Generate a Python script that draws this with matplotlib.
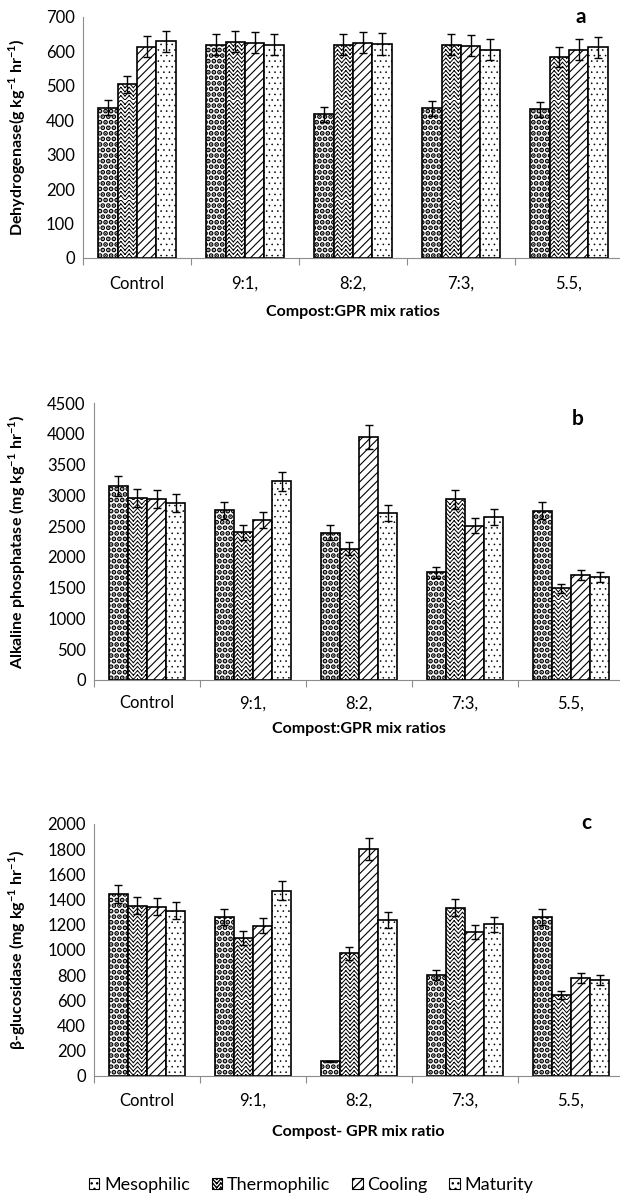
import warnings
import numpy as np
import matplotlib
matplotlib.use("Agg")
import matplotlib.pyplot as plt
import matplotlib.hatch as mhatch
from matplotlib.patches import Patch
from matplotlib.path import Path

warnings.filterwarnings('ignore')

plt.rcParams['font.family'] = ['Lato', 'DejaVu Sans']
plt.rcParams['mathtext.fontset'] = 'custom'
plt.rcParams['mathtext.rm'] = 'Lato'
plt.rcParams['mathtext.bf'] = 'Lato:bold'

ratios = ['Control', '9:1,', '8:2,', '7:3,', '5.5,']
stages = ['Mesophilic', 'Thermophilic', 'Cooling', 'Maturity']

# panel a - dehydrogenase
dh_meso = [437, 620, 417, 435, 432]
dh_thermo = [505, 628, 620, 620, 585]
dh_cool = [614, 625, 625, 617, 605]
dh_mat = [629, 620, 622, 605, 612]
dh_err = [[22, 31, 21, 22, 22], [25, 31, 31, 31, 29],
          [31, 31, 31, 31, 30], [31, 31, 31, 30, 31]]

# panel b - alkaline phosphatase
ap_meso = [3155, 2754, 2396, 1751, 2749]
ap_thermo = [2960, 2402, 2131, 2933, 1491]
ap_cool = [2939, 2602, 3947, 2505, 1708]
ap_mat = [2874, 3226, 2711, 2646, 1670]
ap_err = [[158, 138, 120, 88, 137], [148, 120, 107, 147, 75],
          [147, 130, 197, 125, 85], [144, 161, 136, 132, 84]]

# panel c - beta-glucosidase
bg_meso = [1443, 1260, 117, 801, 1260]
bg_thermo = [1353, 1098, 973, 1334, 645]
bg_cool = [1345, 1191, 1801, 1143, 780]
bg_mat = [1313, 1472, 1236, 1204, 761]
bg_err = [[72, 63, 6, 40, 63], [68, 55, 49, 67, 32],
          [67, 60, 90, 57, 39], [66, 74, 62, 60, 38]]


# herringbone hatch like the excel "zigzag" fill, triggered by 'z'
# built from separate 2-point segments so agg does not fill it
class ZigZagHatch(mhatch.HatchPatternBase):
    def __init__(self, hatch, density):
        self.num_rows = hatch.count('z') * density
        self.periods = 12
        self.num_vertices = self.num_rows * 2 * (2 * self.periods)

    def set_vertices_and_codes(self, vertices, codes):
        n = 2 * self.periods + 1
        xs = np.linspace(0, 1, n)
        h = 0.55 / max(self.num_rows, 1)
        offs = np.where(np.arange(n) % 2 == 0, -h, h)
        k = 0
        for i in range(self.num_rows):
            ys = (i + 0.5) / self.num_rows + offs
            for j in range(n - 1):
                vertices[k] = (xs[j], ys[j])
                vertices[k + 1] = (xs[j + 1], ys[j + 1])
                codes[k] = Path.MOVETO
                codes[k + 1] = Path.LINETO
                k += 2


mhatch._hatch_types.append(ZigZagHatch)

hatches = ['...', 'zzzz', '////', '...']
hatch_lw = [2.5, 0.7, 0.8, 0.4]
grey = '#8c8c8c'

W, H = 620, 1199
fig = plt.figure(figsize=(W / 100, H / 100), dpi=100)


def panel(left, top, bottom, cat_w, series, errs, ymax, ystep, ylabel, xlabel, letter, letter_xy, xlabel_y, tick_pad):
    ax = fig.add_axes([left / W, 1 - bottom / H, (W - left) / W, (bottom - top) / H])
    x = np.arange(len(ratios))
    bw = 0.18
    for i, vals in enumerate(series):
        with plt.rc_context({'hatch.linewidth': hatch_lw[i]}):
            ax.bar(x + (i - 1.5) * bw, vals, bw, color='white', edgecolor='black',
                   linewidth=1.2, hatch=hatches[i], zorder=2)
        ax.errorbar(x + (i - 1.5) * bw, vals, yerr=errs[i], fmt='none', ecolor='black',
                    elinewidth=1, capsize=3, capthick=1, zorder=3)
    ax.set_xlim(-0.5, -0.5 + (W - left) / cat_w)
    ax.set_ylim(0, ymax)
    ax.set_yticks(np.arange(0, ymax + 1, ystep))
    ax.set_xticks(x)
    ax.set_xticklabels(ratios)
    ax.set_xticks(np.arange(len(ratios)) - 0.5, minor=True)
    ax.tick_params(axis='x', which='major', length=0, labelsize=12, pad=tick_pad)
    ax.tick_params(axis='x', which='minor', length=5, color=grey, width=0.8)
    ax.tick_params(axis='y', length=0, labelsize=12, pad=6)
    for s in ['top', 'right']:
        ax.spines[s].set_visible(False)
    for s in ['left', 'bottom']:
        ax.spines[s].set_color(grey)
        ax.spines[s].set_linewidth(0.8)
    ax.set_ylabel(ylabel, fontsize=11.5, fontweight='bold')
    ax.yaxis.set_label_coords(-(left - 28) / (W - left), 0.5)
    fig.text((left + 623) / 2 / W, 1 - xlabel_y / H, xlabel, fontsize=11.5,
             fontweight='bold', ha='center', va='center')
    fig.text(letter_xy[0] / W, 1 - letter_xy[1] / H, letter, fontsize=15,
             fontweight='bold', ha='center', va='center')
    return ax


panel(83, 17, 258, 108, [dh_meso, dh_thermo, dh_cool, dh_mat], dh_err, 700, 100,
      r'Dehydrogenase(g kg$^{\mathbf{-1}}$ hr$^{\mathbf{-1}}$)',
      'Compost:GPR mix ratios', 'a', (581, 17), 312, 13)
panel(94, 403, 680, 106, [ap_meso, ap_thermo, ap_cool, ap_mat], ap_err, 4500, 500,
      r'Alkaline phosphatase (mg kg$^{\mathbf{-1}}$ hr$^{\mathbf{-1}}$)',
      'Compost:GPR mix ratios', 'b', (578, 419), 729, 11)
panel(94, 824, 1076, 106, [bg_meso, bg_thermo, bg_cool, bg_mat], bg_err, 2000, 200,
      r'β-glucosidase (mg kg$^{\mathbf{-1}}$ hr$^{\mathbf{-1}}$)',
      'Compost- GPR mix ratio', 'c', (586, 823), 1132, 12)

handles = []
for i, name in enumerate(stages):
    with plt.rc_context({'hatch.linewidth': hatch_lw[i] * 0.7}):
        handles.append(Patch(facecolor='white', edgecolor='black', linewidth=0.8,
                             hatch=hatches[i], label=name))
fig.legend(handles=handles, loc='center', bbox_to_anchor=(311 / W, 1 - 1185 / H),
           ncol=4, frameon=False, fontsize=13, handlelength=0.6, handleheight=0.6,
           handletextpad=0.25, columnspacing=1.2)

fig.savefig('out.png', dpi=100)
